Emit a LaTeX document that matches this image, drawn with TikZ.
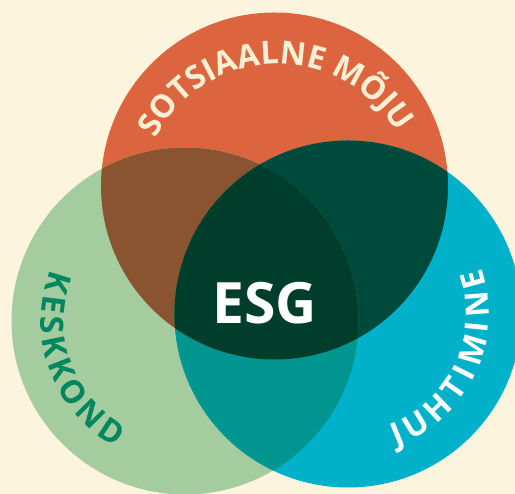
\documentclass[tikz,border=0pt]{standalone}
\usepackage{fontspec}
\setmainfont{Open Sans}
\usetikzlibrary{decorations.text}
\definecolor{bg}{HTML}{FDF4DE}
\definecolor{cor}{HTML}{DC6540}
\definecolor{cgr}{HTML}{A4CC9E}
\definecolor{cbl}{HTML}{00B1C9}
\definecolor{cog}{HTML}{8B5430}
\definecolor{cob}{HTML}{004A3C}
\definecolor{cgb}{HTML}{00958F}
\definecolor{call}{HTML}{003D2A}
\definecolor{ctxtg}{HTML}{00875F}
\definecolor{ccream}{HTML}{FCF0D4}
\newcommand{\labfont}{\fontsize{32}{32}\selectfont\bfseries}
\begin{document}
\begin{tikzpicture}[x=1pt,y=1pt,
  arclabel/.style={decorate,decoration={text along path,text align=fit to path,text color=#1}}]
\fill[bg] (0,0) rectangle (515,494);
\useasboundingbox (0,0) rectangle (515,494);
\coordinate (O) at (274.5,308);
\coordinate (G) at (185,173);
\coordinate (B) at (348,180);
\coordinate (Ot) at (278,292);
\def\R{173.5}
\fill[cor] (O) circle[radius=\R];
\fill[cgr] (G) circle[radius=\R];
\fill[cbl] (B) circle[radius=\R];
\begin{scope}\clip (O) circle[radius=\R]; \fill[cog] (G) circle[radius=\R];\end{scope}
\begin{scope}\clip (O) circle[radius=\R]; \fill[cob] (B) circle[radius=\R];\end{scope}
\begin{scope}\clip (G) circle[radius=\R]; \fill[cgb] (B) circle[radius=\R];\end{scope}
\begin{scope}\clip (O) circle[radius=\R]; \clip (G) circle[radius=\R]; \fill[call] (B) circle[radius=\R];\end{scope}
% labels
{\labfont
\path[decorate,decoration={text along path,text align=center,text color=ccream,text={SOTSIAALNE MÕJU}}]
  (Ot) ++(156:138) arc[start angle=156,end angle=27,radius=138];
\path[arclabel=ctxtg,decoration={text={KESKKOND}}]
  (G) ++(159:144) arc[start angle=159,end angle=241,radius=144];
\path[arclabel=white,decoration={text={JUHTIMINE}}]
  (B) ++(-70:141) arc[start angle=-70,end angle=19,radius=141];
}
\node[anchor=base,text=white,font=\bfseries\fontsize{57}{57}\selectfont,inner sep=0pt] (esg) at (264.5,170) {ESG};
\end{tikzpicture}
\end{document}
